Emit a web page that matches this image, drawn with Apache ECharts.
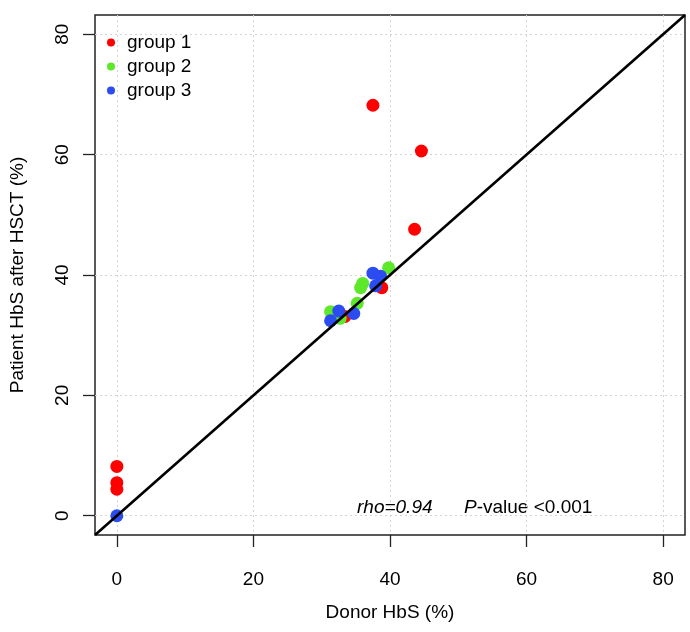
<!DOCTYPE html>
<html><head><meta charset="utf-8">
<script src="https://cdn.jsdelivr.net/npm/echarts@6/dist/echarts.min.js"></script>
<style>html,body{margin:0;padding:0;background:#fff}#c{width:690px;height:632px}</style>
</head><body><div id="c"></div>
<script>
const FONT = '"Liberation Sans", Arial, sans-serif';
const axisMin = -3.2, axisMax = 83.2;
const tickValues = [0, 20, 40, 60, 80];
const seriesNames = ['group 1', 'group 2', 'group 3'];
const seriesColors = ['#ff0000', '#5ee82a', '#2a4cf0'];
const group1 = [[0,8.2],[0,5.5],[0,4.4],[37.5,68.2],[44.6,60.6],[43.6,47.6],[38.8,37.9],[33.4,33.1]];
const group2 = [[39.8,41.2],[36.0,38.6],[35.7,37.9],[35.2,35.3],[31.3,33.9],[32.7,32.8]];
const group3 = [[0,0],[37.5,40.3],[38.6,39.8],[37.9,38.2],[32.5,34.0],[31.3,32.4],[34.7,33.6]];
const identityLine = [[axisMin, axisMin], [axisMax, axisMax]];
const groups = [group1, group2, group3];

const chart = echarts.init(document.getElementById('c'), null, {renderer: 'canvas'});
const axisCommon = {
  type: 'value', min: axisMin, max: axisMax,
  nameLocation: 'middle',
  nameTextStyle: {fontFamily: FONT, fontSize: 19, color: '#000'},
  axisLine: {show: false, onZero: false},
  axisTick: {show: true, inside: false, length: 12, customValues: tickValues, lineStyle: {color: '#222', width: 1.3}},
  axisLabel: {customValues: tickValues, fontFamily: FONT, fontSize: 19, color: '#000'},
  splitLine: {show: true, lineStyle: {color: '#d4d4d4', type: [2, 3], width: 1}}
};
chart.setOption({
  animation: false,
  backgroundColor: '#fff',
  grid: {left: 95, top: 15, width: 590, height: 520, show: true, borderColor: '#222', borderWidth: 1.5, backgroundColor: 'transparent'},
  xAxis: Object.assign({}, axisCommon, {
    name: 'Donor HbS (%)', nameGap: 68,
    axisLabel: Object.assign({}, axisCommon.axisLabel, {margin: 35})
  }),
  yAxis: Object.assign({}, axisCommon, {
    name: 'Patient HbS after HSCT (%)', nameGap: 68,
    axisLabel: Object.assign({}, axisCommon.axisLabel, {rotate: 90, margin: 23})
  }),
  legend: {
    orient: 'vertical', left: 102, top: 28, itemWidth: 22, itemHeight: 8, itemGap: 5,
    icon: 'circle', textStyle: {fontFamily: FONT, fontSize: 19, color: '#000'},
    data: seriesNames
  },
  series: groups.map((g, i) => ({
    type: 'scatter', name: seriesNames[i], data: g, symbol: 'circle', symbolSize: 13,
    itemStyle: {color: seriesColors[i], opacity: 1}, z: 2 + i
  })).concat([{
    type: 'line', data: identityLine, symbol: 'none', silent: true, z: 10,
    lineStyle: {color: '#000', width: 2.6}
  }]),
  graphic: [
    {type: 'text', left: 357, top: 498, style: {text: 'rho=0.94', font: 'italic 19px ' + FONT, fill: '#000'}},
    {type: 'text', left: 464, top: 498, style: {text: '{i|P}-value <0.001', fontFamily: FONT, fontSize: 19, fill: '#000',
      rich: {i: {fontStyle: 'italic', fontFamily: FONT, fontSize: 19, color: '#000'}}}}
  ]
});
</script></body></html>
